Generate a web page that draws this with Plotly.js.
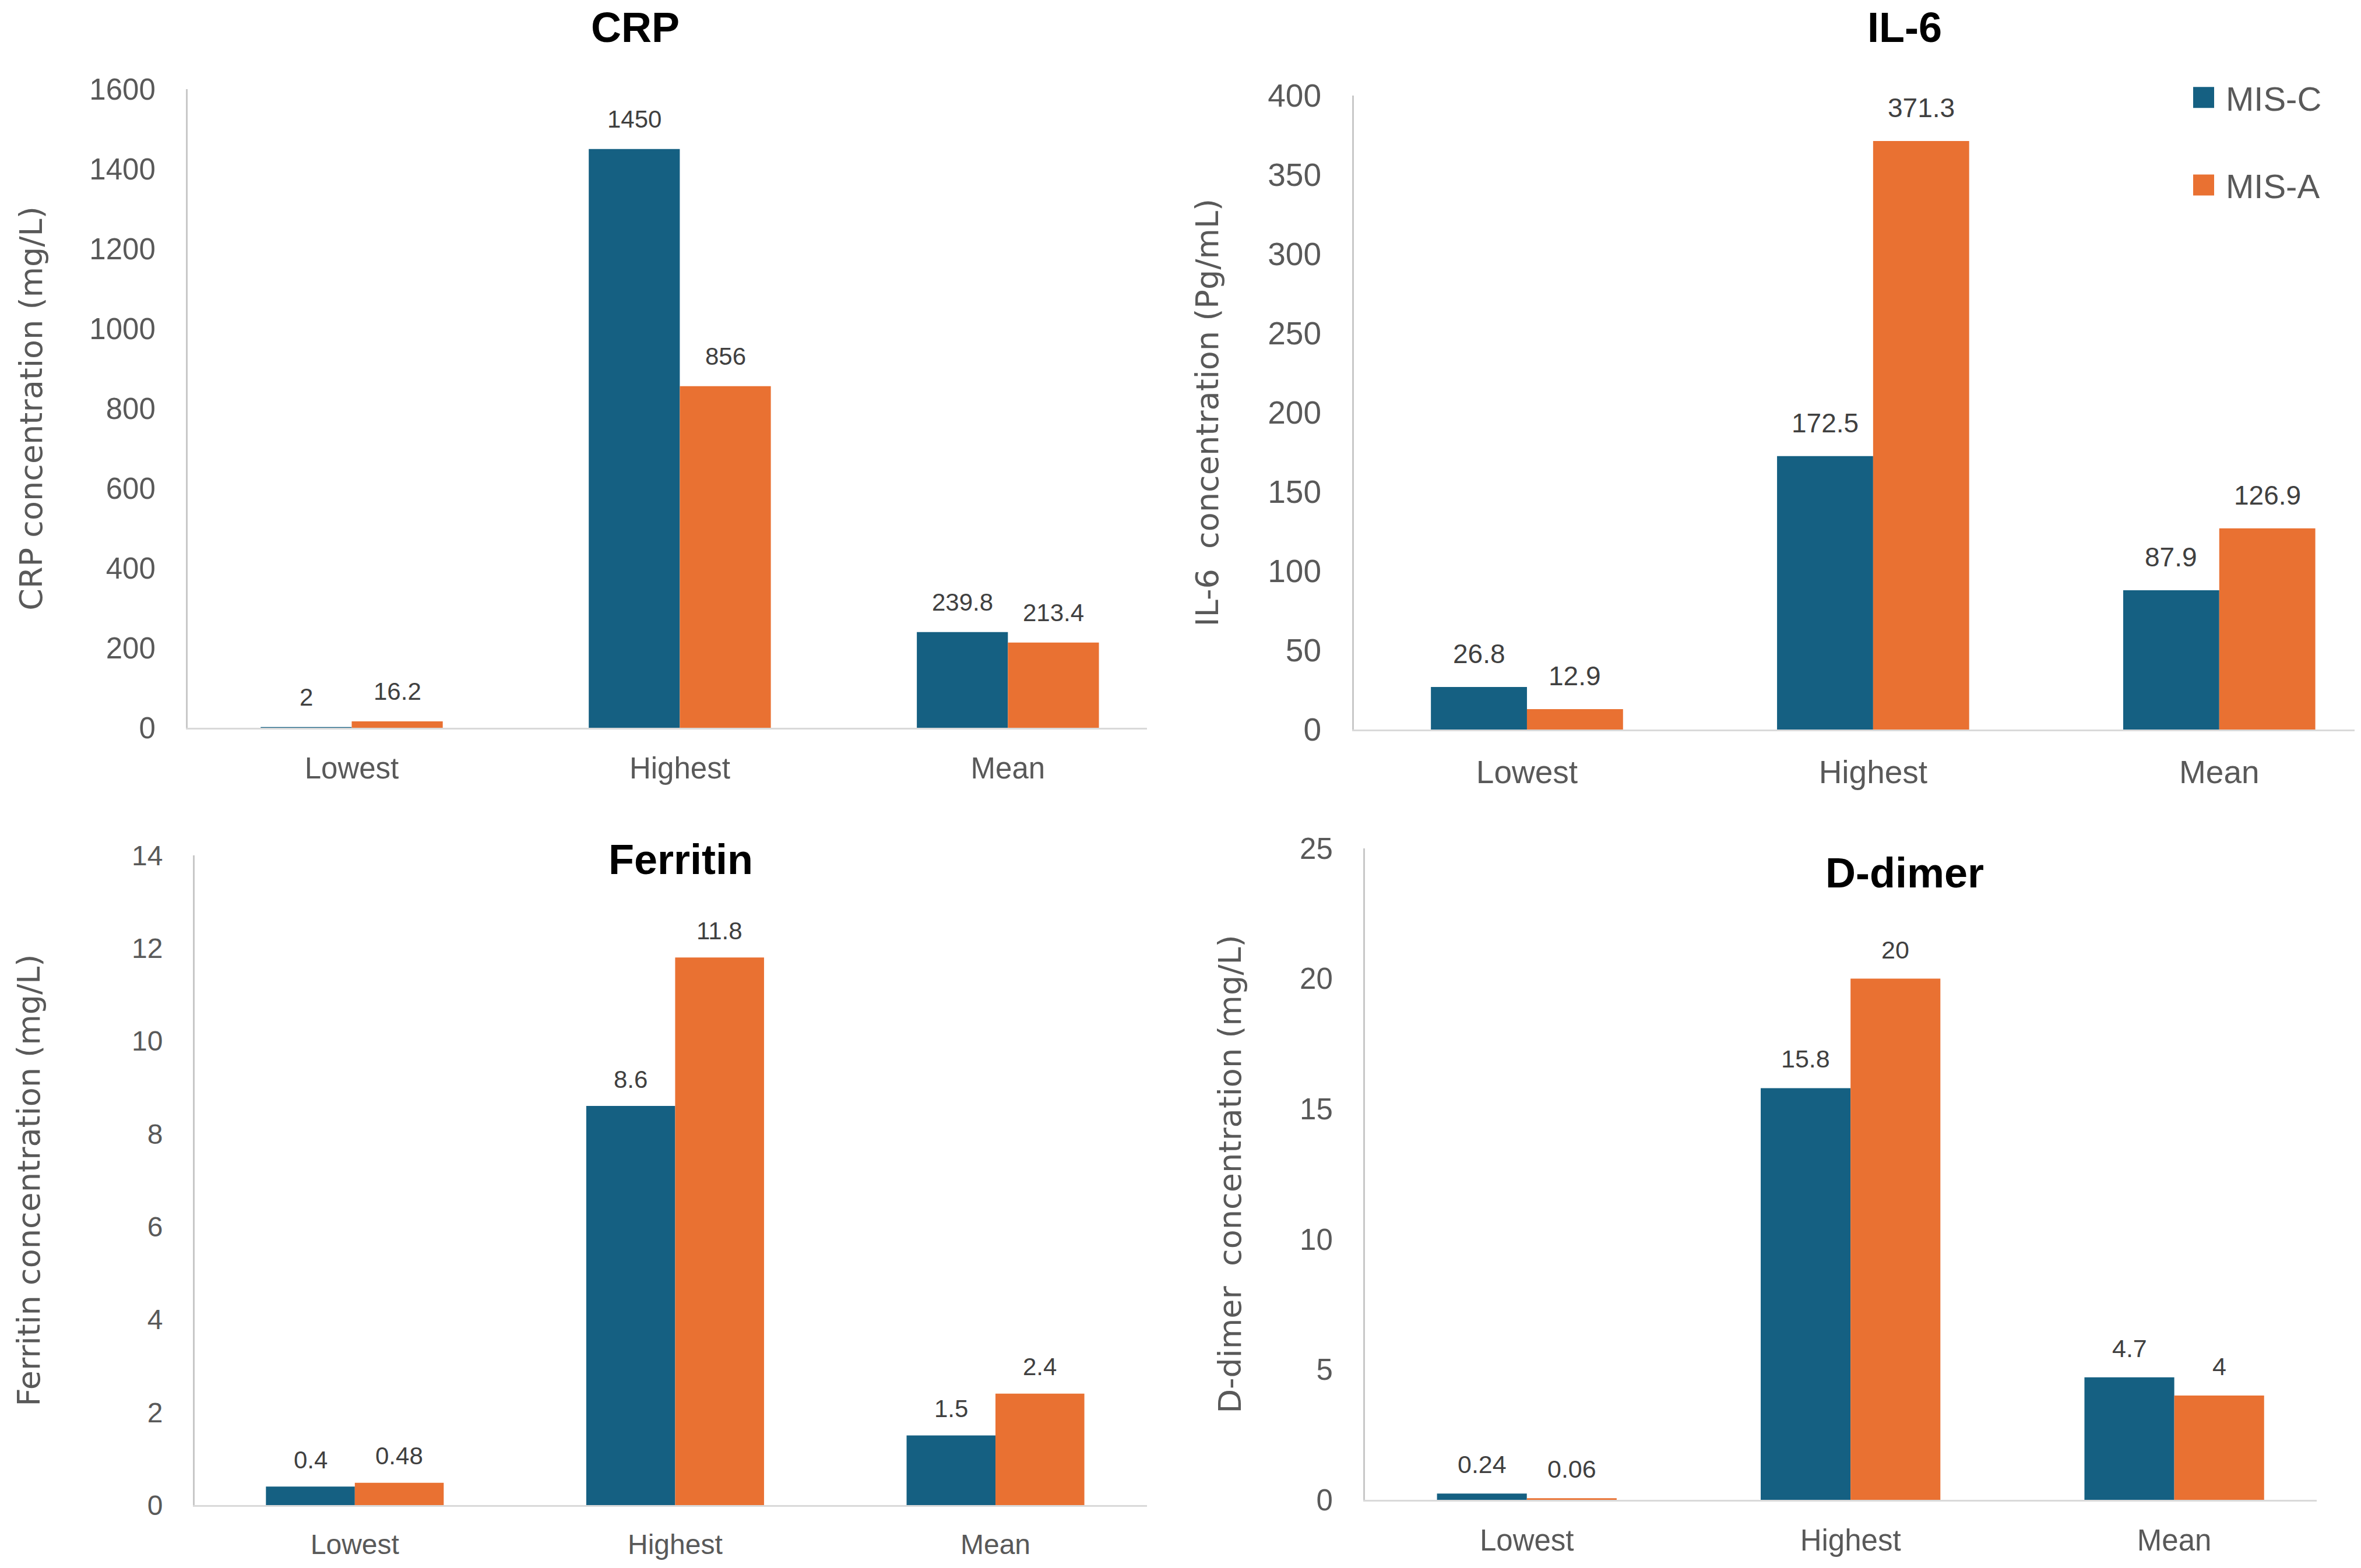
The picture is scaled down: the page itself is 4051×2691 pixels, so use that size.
<!DOCTYPE html>
<html>
<head>
<meta charset="utf-8">
<script src="https://cdn.plot.ly/plotly-3.0.1.min.js"></script>
<style>
html,body{margin:0;padding:0;background:#fff;}
#chart{width:4051px;height:2691px;}
</style>
</head>
<body>
<div id="chart"></div>
<script>
// ---------- data ----------
const categories = ['Lowest', 'Highest', 'Mean'];
const seriesNames = ['MIS-C', 'MIS-A'];

const crpMISC = [2, 1450, 239.8];
const crpMISA = [16.2, 856, 213.4];
const il6MISC = [26.8, 172.5, 87.9];
const il6MISA = [12.9, 371.3, 126.9];
const ferMISC = [0.4, 8.6, 1.5];
const ferMISA = [0.48, 11.8, 2.4];
const ddMISC = [0.24, 15.8, 4.7];
const ddMISA = [0.06, 20, 4];

const crpTicks = [0, 200, 400, 600, 800, 1000, 1200, 1400, 1600];
const il6Ticks = [0, 50, 100, 150, 200, 250, 300, 350, 400];
const ferTicks = [0, 2, 4, 6, 8, 10, 12, 14];
const ddTicks = [0, 5, 10, 15, 20, 25];

const panelTitles = ['CRP', 'IL-6', 'Ferritin', 'D-dimer'];
const yTitles = ['CRP concentration (mg/L)', 'IL-6\u00a0 concentration (Pg/mL)',
                 'Ferritin concentration (mg/L)', 'D-dimer\u00a0 concentration (mg/L)'];

// ---------- styling / layout ----------
const W = 4051, H = 2691;
const colors = ['#156082', '#E97132'];
const BARGAP = 0.445;
const px = v => v / W;
const py = v => 1 - v / H;

const panels = [
  {misc: crpMISC, misa: crpMISA, ticks: crpTicks, xl: 322, xr: 1968, yb: 1249, yt: 153,
   xmax: 2.424, tick: 51, lab: 42, lift: 51, stand: 64, title: [1090, 47]},
  {misc: il6MISC, misa: il6MISA, ticks: il6Ticks, xl: 2323, xr: 4040, yb: 1252, yt: 164,
   xmax: 2.391, tick: 55, lab: 46, lift: 57, stand: 68, title: [3268, 47]},
  {misc: ferMISC, misa: ferMISA, ticks: ferTicks, xl: 334, xr: 1968, yb: 2583, yt: 1468,
   xmax: 2.473, tick: 48, lab: 42, lift: 46, stand: 141, title: [1168, 1475]},
  {misc: ddMISC, misa: ddMISA, ticks: ddTicks, xl: 2342, xr: 3975, yb: 2574, yt: 1456,
   xmax: 2.44, tick: 51, lab: 43, lift: 50, stand: 84, title: [3268, 1498]}
];

const traces = [];
const annotations = [];
const layout = {
  width: W, height: H,
  margin: {l: 0, r: 0, t: 0, b: 0},
  paper_bgcolor: '#ffffff', plot_bgcolor: '#ffffff',
  barmode: 'group', bargap: BARGAP, bargroupgap: 0,
  font: {family: 'Liberation Sans, Arial, sans-serif', color: '#595959'},
  showlegend: true,
  legend: {
    x: px(3743), y: py(123), xanchor: 'left', yanchor: 'top',
    font: {size: 58, color: '#595959', family: 'Liberation Sans, Arial, sans-serif'},
    tracegroupgap: 72, itemwidth: 66, bgcolor: 'rgba(0,0,0,0)'
  },
  annotations: annotations
};

const barW = (1 - BARGAP) / 2;

panels.forEach((p, k) => {
  const n = k + 1;
  const xa = 'x' + (n === 1 ? '' : n), ya = 'y' + (n === 1 ? '' : n);
  const xKey = 'xaxis' + (n === 1 ? '' : n), yKey = 'yaxis' + (n === 1 ? '' : n);
  [p.misc, p.misa].forEach((vals, s) => {
    traces.push({
      type: 'bar', x: categories, y: vals, name: seriesNames[s],
      marker: {color: colors[s], line: {width: 0}},
      xaxis: xa, yaxis: ya, legendgroup: seriesNames[s],
      showlegend: k === 0, hoverinfo: 'x+y+name'
    });
    vals.forEach((v, i) => {
      annotations.push({
        xref: xa, yref: ya, x: i + (s === 0 ? -barW / 2 : barW / 2), y: v,
        text: String(v), showarrow: false, yanchor: 'middle', xanchor: 'center',
        yshift: p.lift, font: {size: p.lab, color: '#404040', family: 'Liberation Sans, Arial, sans-serif'}
      });
    });
  });
  layout[xKey] = {
    domain: [px(p.xl), px(p.xr)], anchor: ya, type: 'category',
    range: [-0.5, p.xmax], showline: true, linecolor: '#D9D9D9', linewidth: 3,
    showgrid: false, zeroline: false, ticks: '', ticklabelstandoff: 23,
    tickfont: {size: p.tick, color: '#595959'}, fixedrange: true
  };
  layout[yKey] = {
    domain: [py(p.yb), py(p.yt)], anchor: xa, range: [0, p.ticks[p.ticks.length - 1]],
    tickmode: 'array', tickvals: p.ticks, ticktext: p.ticks.map(String),
    showline: true, linecolor: '#C8C8C8', linewidth: 3, showgrid: false, zeroline: false,
    ticks: '', ticklabelstandoff: 42, tickfont: {size: p.tick, color: '#595959'},
    title: {text: yTitles[k], standoff: p.stand,
            font: {family: 'DejaVu Sans, sans-serif', size: 54, color: '#595959'}},
    fixedrange: true
  };
  annotations.push({
    xref: 'paper', yref: 'paper', x: px(p.title[0]), y: py(p.title[1]),
    text: panelTitles[k], showarrow: false, xanchor: 'center', yanchor: 'middle',
    font: {size: 72, color: '#000000', family: 'Liberation Sans, Arial, sans-serif', weight: 'bold'}
  });
});

Plotly.newPlot('chart', traces, layout, {staticPlot: true}).then(() => {
  // enlarge the legend swatches to match the reference's square markers
  document.querySelectorAll('.legend .legendpoints path').forEach(el => {
    el.setAttribute('d', 'M18,18H-18V-18H18Z');
  });
});
</script>
</body>
</html>
